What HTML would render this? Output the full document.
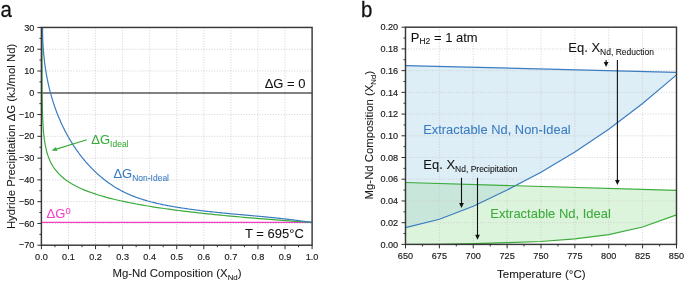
<!DOCTYPE html>
<html><head><meta charset="utf-8"><style>
html,body{margin:0;padding:0;background:#fff;}
svg{display:block;will-change:transform;}
text{font-family:"Liberation Sans", sans-serif;}
</style></head><body>
<svg width="685" height="282" viewBox="0 0 685 282">
<rect width="685" height="282" fill="#fff"/>

<line x1="68.47" y1="27.45" x2="68.47" y2="245.21" stroke="#cdcdcd" stroke-width="0.85" stroke-dasharray="1.1 1.56"/>
<line x1="95.54" y1="27.45" x2="95.54" y2="245.21" stroke="#cdcdcd" stroke-width="0.85" stroke-dasharray="1.1 1.56"/>
<line x1="122.61" y1="27.45" x2="122.61" y2="245.21" stroke="#cdcdcd" stroke-width="0.85" stroke-dasharray="1.1 1.56"/>
<line x1="149.68" y1="27.45" x2="149.68" y2="245.21" stroke="#cdcdcd" stroke-width="0.85" stroke-dasharray="1.1 1.56"/>
<line x1="176.75" y1="27.45" x2="176.75" y2="245.21" stroke="#cdcdcd" stroke-width="0.85" stroke-dasharray="1.1 1.56"/>
<line x1="203.82" y1="27.45" x2="203.82" y2="245.21" stroke="#cdcdcd" stroke-width="0.85" stroke-dasharray="1.1 1.56"/>
<line x1="230.89" y1="27.45" x2="230.89" y2="245.21" stroke="#cdcdcd" stroke-width="0.85" stroke-dasharray="1.1 1.56"/>
<line x1="257.96" y1="27.45" x2="257.96" y2="245.21" stroke="#cdcdcd" stroke-width="0.85" stroke-dasharray="1.1 1.56"/>
<line x1="285.03" y1="27.45" x2="285.03" y2="245.21" stroke="#cdcdcd" stroke-width="0.85" stroke-dasharray="1.1 1.56"/>
<line x1="41.4" y1="49.23" x2="312.1" y2="49.23" stroke="#cdcdcd" stroke-width="0.85" stroke-dasharray="1.1 1.56"/>
<line x1="41.4" y1="71" x2="312.1" y2="71" stroke="#cdcdcd" stroke-width="0.85" stroke-dasharray="1.1 1.56"/>
<line x1="41.4" y1="114.56" x2="312.1" y2="114.56" stroke="#cdcdcd" stroke-width="0.85" stroke-dasharray="1.1 1.56"/>
<line x1="41.4" y1="136.33" x2="312.1" y2="136.33" stroke="#cdcdcd" stroke-width="0.85" stroke-dasharray="1.1 1.56"/>
<line x1="41.4" y1="158.11" x2="312.1" y2="158.11" stroke="#cdcdcd" stroke-width="0.85" stroke-dasharray="1.1 1.56"/>
<line x1="41.4" y1="179.88" x2="312.1" y2="179.88" stroke="#cdcdcd" stroke-width="0.85" stroke-dasharray="1.1 1.56"/>
<line x1="41.4" y1="201.66" x2="312.1" y2="201.66" stroke="#cdcdcd" stroke-width="0.85" stroke-dasharray="1.1 1.56"/>
<line x1="41.4" y1="223.43" x2="312.1" y2="223.43" stroke="#cdcdcd" stroke-width="0.85" stroke-dasharray="1.1 1.56"/>
<line x1="41.4" y1="92.98" x2="312.1" y2="92.98" stroke="#585858" stroke-width="1.6"/>
<line x1="41.4" y1="222.4" x2="312.1" y2="222.4" stroke="#f53fc5" stroke-width="1.2"/>
<polyline points="42,27.69 42,28.9 42,30.1 42,31.31 42.01,32.51 42.01,33.72 42.01,34.92 42.01,36.13 42.01,37.33 42.01,38.54 42.01,39.74 42.01,40.95 42.01,42.15 42.01,43.36 42.01,44.56 42.01,45.77 42.01,46.97 42.01,48.18 42.01,49.38 42.01,50.59 42.02,51.8 42.02,53 42.02,54.21 42.02,55.41 42.02,56.62 42.02,57.82 42.02,59.03 42.03,60.23 42.03,61.44 42.03,62.64 42.03,63.85 42.03,65.05 42.04,66.26 42.04,67.46 42.04,68.67 42.04,69.87 42.05,71.08 42.05,72.28 42.05,73.49 42.06,74.69 42.06,75.9 42.07,77.1 42.07,78.31 42.08,79.51 42.08,80.72 42.09,81.92 42.1,83.13 42.1,84.33 42.11,85.54 42.12,86.74 42.13,87.95 42.13,89.15 42.14,90.36 42.15,91.56 42.17,92.77 42.18,93.97 42.19,95.18 42.2,96.38 42.22,97.59 42.23,98.79 42.25,100 42.27,101.2 42.29,102.41 42.31,103.61 42.33,104.82 42.35,106.02 42.38,107.23 42.4,108.43 42.43,109.64 42.46,110.84 42.5,112.05 42.53,113.25 42.57,114.46 42.61,115.66 42.65,116.87 42.7,118.07 42.75,119.28 42.8,120.48 42.86,121.69 42.92,122.89 42.99,124.1 43.06,125.3 43.13,126.51 43.21,127.71 43.3,128.92 43.39,130.12 43.49,131.33 43.6,132.53 43.71,133.74 43.83,134.94 43.96,136.15 44.1,137.35 44.25,138.56 44.41,139.76 44.58,140.97 44.77,142.17 44.96,143.38 45.17,144.58 45.4,145.79 45.64,146.99 45.9,148.2 46.18,149.4 46.48,150.61 46.79,151.81 47.14,153.02 47.5,154.22 47.89,155.43 48.31,156.63 48.76,157.84 49.24,159.04 49.76,160.25 50.31,161.45 50.9,162.66 51.54,163.86 52.22,165.07 52.94,166.27 53.72,167.48 54.56,168.68 55.45,169.89 58.69,173.67 61.92,176.77 65.16,179.41 68.4,181.7 71.63,183.73 74.87,185.55 78.11,187.19 81.35,188.7 84.59,190.08 87.83,191.37 91.07,192.56 94.31,193.68 97.55,194.73 100.8,195.73 104.04,196.67 107.28,197.56 110.52,198.41 113.77,199.22 117.01,199.99 120.25,200.73 123.5,201.44 126.74,202.13 129.99,202.78 133.23,203.42 136.48,204.03 139.73,204.62 142.97,205.19 146.22,205.75 149.47,206.28 152.72,206.8 155.96,207.31 159.21,207.8 162.46,208.28 165.71,208.74 168.96,209.2 172.21,209.64 175.46,210.07 178.71,210.49 181.96,210.9 185.21,211.3 188.46,211.7 191.71,212.08 194.96,212.46 198.21,212.82 201.46,213.19 204.71,213.54 207.97,213.88 211.22,214.22 214.47,214.56 217.72,214.88 220.98,215.2 224.23,215.52 227.48,215.83 230.73,216.13 233.99,216.43 237.24,216.72 240.5,217.01 243.75,217.3 247,217.58 250.26,217.85 253.51,218.12 256.77,218.39 260.02,218.65 263.27,218.91 266.53,219.17 269.78,219.42 273.04,219.67 276.29,219.91 279.55,220.15 282.8,220.39 286.06,220.63 289.31,220.86 292.57,221.09 295.82,221.31 299.08,221.54 302.33,221.76 305.59,221.97 308.84,222.19 312.1,222.4" fill="none" stroke="#3cab3c" stroke-width="1.2"/>
<polyline points="42.53,27.46 42.54,28.43 42.54,29.4 42.55,30.38 42.56,31.35 42.57,32.32 42.59,33.29 42.61,34.26 42.63,35.23 42.66,36.19 42.69,37.16 42.72,38.13 42.75,39.1 42.79,40.07 42.83,41.03 42.88,42 42.92,42.97 42.97,43.93 43.03,44.9 43.08,45.86 43.14,46.83 43.21,47.79 43.28,48.76 43.35,49.72 43.42,50.68 43.5,51.64 43.58,52.6 43.66,53.57 43.75,54.53 43.84,55.49 43.93,56.44 44.03,57.4 44.13,58.36 44.24,59.32 44.35,60.27 44.46,61.23 44.58,62.18 44.7,63.14 44.82,64.09 44.95,65.05 45.08,66 45.21,66.95 45.35,67.9 45.49,68.85 45.64,69.8 45.79,70.75 45.94,71.7 46.1,72.64 46.26,73.59 46.42,74.54 46.59,75.48 46.76,76.42 46.94,77.37 47.12,78.31 47.3,79.25 47.49,80.19 47.69,81.13 47.88,82.07 48.08,83 48.29,83.94 48.5,84.88 48.71,85.81 48.93,86.74 49.15,87.68 49.37,88.61 49.6,89.54 49.84,90.47 50.08,91.4 50.32,92.32 50.57,93.25 50.82,94.18 51.07,95.1 51.33,96.02 51.6,96.94 51.87,97.87 52.14,98.78 52.42,99.7 52.7,100.62 52.99,101.54 53.28,102.45 53.58,103.37 53.88,104.28 54.18,105.19 54.49,106.1 54.81,107.01 55.13,107.92 55.45,108.82 55.78,109.73 56.11,110.63 56.45,111.53 56.79,112.44 57.14,113.34 57.49,114.23 57.85,115.13 58.21,116.03 58.58,116.92 58.95,117.82 59.32,118.71 59.7,119.6 60.09,120.48 60.48,121.37 60.88,122.26 61.28,123.14 61.68,124.02 62.09,124.9 62.51,125.78 62.93,126.65 63.35,127.52 63.78,128.39 64.22,129.26 64.65,130.13 65.1,130.99 65.55,131.86 66,132.71 66.46,133.57 66.92,134.43 67.39,135.28 67.86,136.13 68.34,136.97 68.82,137.82 69.31,138.66 69.8,139.5 70.3,140.33 70.8,141.16 71.3,141.99 71.82,142.82 72.33,143.64 72.85,144.46 73.38,145.28 73.91,146.09 74.44,146.9 74.98,147.7 75.53,148.51 76.07,149.31 76.63,150.1 77.19,150.89 77.75,151.68 78.32,152.46 78.89,153.25 79.47,154.02 80.05,154.79 80.64,155.56 81.23,156.33 81.83,157.09 82.43,157.85 83.04,158.6 83.65,159.35 84.26,160.09 84.88,160.83 85.51,161.56 86.14,162.29 86.77,163.02 87.41,163.74 88.06,164.46 88.71,165.17 89.36,165.88 90.02,166.58 90.68,167.28 91.35,167.97 92.02,168.66 92.7,169.34 93.38,170.02 94.07,170.69 94.76,171.35 95.45,172.02 96.16,172.67 96.86,173.32 97.57,173.97 98.29,174.61 99.01,175.24 99.73,175.87 100.46,176.5 101.19,177.11 101.93,177.72 102.67,178.33 103.42,178.93 104.17,179.52 104.92,180.11 105.68,180.69 106.45,181.27 107.22,181.84 107.99,182.4 108.76,182.96 109.55,183.51 110.33,184.05 111.12,184.59 111.91,185.12 112.71,185.64 113.51,186.16 114.32,186.67 115.13,187.17 115.94,187.67 116.76,188.15 117.58,188.64 118.41,189.11 119.24,189.58 120.07,190.04 120.91,190.49 121.75,190.94 122.6,191.38 123.45,191.81 124.3,192.23 125.16,192.65 126.02,193.06 126.88,193.46 127.75,193.85 128.62,194.24 129.49,194.62 130.37,195 131.25,195.36 132.14,195.72 133.02,196.08 133.91,196.43 134.8,196.77 135.7,197.11 136.6,197.44 137.5,197.76 138.4,198.08 139.31,198.39 140.22,198.7 141.13,199 142.04,199.29 142.96,199.59 143.88,199.87 144.8,200.15 145.72,200.42 146.65,200.69 147.57,200.96 148.5,201.22 149.43,201.47 150.37,201.72 151.3,201.97 152.24,202.21 153.18,202.45 154.12,202.68 155.06,202.91 156,203.13 156.94,203.36 157.89,203.57 158.84,203.78 159.78,203.99 160.73,204.2 161.68,204.4 162.63,204.6 163.59,204.79 164.54,204.99 165.49,205.18 166.45,205.36 167.4,205.54 168.36,205.72 169.31,205.9 170.27,206.07 171.23,206.25 172.19,206.42 173.14,206.58 174.1,206.75 175.06,206.91 176.02,207.07 176.98,207.23 177.94,207.38 178.89,207.54 179.85,207.69 180.81,207.84 181.77,207.99 182.73,208.14 183.69,208.28 184.65,208.42 185.61,208.57 186.56,208.71 187.52,208.84 188.48,208.98 189.44,209.11 190.4,209.25 191.36,209.38 192.32,209.51 193.28,209.64 194.23,209.76 195.19,209.89 196.15,210.01 197.11,210.14 198.07,210.26 199.03,210.38 199.99,210.49 200.95,210.61 201.91,210.73 202.86,210.84 203.82,210.95 204.78,211.07 205.74,211.18 206.7,211.29 207.66,211.4 208.62,211.5 209.58,211.61 210.54,211.71 211.5,211.82 212.45,211.92 213.41,212.02 214.37,212.13 215.33,212.23 216.29,212.33 217.25,212.42 218.21,212.52 219.17,212.62 220.13,212.72 221.09,212.81 222.04,212.91 223,213 223.96,213.09 224.92,213.19 225.88,213.28 226.84,213.37 227.8,213.46 228.76,213.55 229.72,213.64 230.67,213.73 231.63,213.82 232.59,213.91 233.55,214 234.51,214.09 235.47,214.17 236.43,214.26 237.39,214.35 238.34,214.44 239.3,214.52 240.26,214.61 241.22,214.69 242.18,214.78 243.14,214.87 244.1,214.95 245.06,215.04 246.01,215.12 246.97,215.21 247.93,215.3 248.89,215.38 249.85,215.47 250.81,215.55 251.77,215.64 252.72,215.73 253.68,215.81 254.64,215.9 255.6,215.99 256.56,216.07 257.52,216.16 258.47,216.25 259.43,216.34 260.39,216.43 261.35,216.51 262.31,216.6 263.26,216.69 264.22,216.78 265.18,216.87 266.14,216.97 267.1,217.06 268.06,217.15 269.01,217.24 269.97,217.34 270.93,217.43 271.89,217.53 272.84,217.62 273.8,217.72 274.76,217.82 275.72,217.92 276.68,218.01 277.63,218.11 278.59,218.22 279.55,218.32 280.51,218.42 281.46,218.52 282.42,218.63 283.38,218.73 284.34,218.84 285.29,218.95 286.25,219.06 287.21,219.17 288.16,219.28 289.12,219.39 290.08,219.51 291.04,219.62 291.99,219.74 292.95,219.85 293.91,219.97 294.86,220.09 295.82,220.22 296.78,220.34 297.73,220.46 298.69,220.59 299.65,220.72 300.6,220.85 301.56,220.98 302.52,221.11 303.47,221.24 304.43,221.38 305.38,221.51 306.34,221.65 307.3,221.79 308.25,221.94 309.21,222.08 310.16,222.23 311.12,222.37 312.08,222.52" fill="none" stroke="#3b7cc0" stroke-width="1.2"/>
<rect x="41.4" y="27.45" width="270.7" height="217.75" fill="none" stroke="#383838" stroke-width="1.45"/>
<line x1="37.4" y1="27.45" x2="41.4" y2="27.45" stroke="#2e2e2e" stroke-width="1.0"/>
<line x1="39.4" y1="38.34" x2="41.4" y2="38.34" stroke="#2e2e2e" stroke-width="1.0"/>
<line x1="37.4" y1="49.23" x2="41.4" y2="49.23" stroke="#2e2e2e" stroke-width="1.0"/>
<line x1="39.4" y1="60.12" x2="41.4" y2="60.12" stroke="#2e2e2e" stroke-width="1.0"/>
<line x1="37.4" y1="71" x2="41.4" y2="71" stroke="#2e2e2e" stroke-width="1.0"/>
<line x1="39.4" y1="81.89" x2="41.4" y2="81.89" stroke="#2e2e2e" stroke-width="1.0"/>
<line x1="37.4" y1="92.78" x2="41.4" y2="92.78" stroke="#2e2e2e" stroke-width="1.0"/>
<line x1="39.4" y1="103.67" x2="41.4" y2="103.67" stroke="#2e2e2e" stroke-width="1.0"/>
<line x1="37.4" y1="114.56" x2="41.4" y2="114.56" stroke="#2e2e2e" stroke-width="1.0"/>
<line x1="39.4" y1="125.44" x2="41.4" y2="125.44" stroke="#2e2e2e" stroke-width="1.0"/>
<line x1="37.4" y1="136.33" x2="41.4" y2="136.33" stroke="#2e2e2e" stroke-width="1.0"/>
<line x1="39.4" y1="147.22" x2="41.4" y2="147.22" stroke="#2e2e2e" stroke-width="1.0"/>
<line x1="37.4" y1="158.11" x2="41.4" y2="158.11" stroke="#2e2e2e" stroke-width="1.0"/>
<line x1="39.4" y1="168.99" x2="41.4" y2="168.99" stroke="#2e2e2e" stroke-width="1.0"/>
<line x1="37.4" y1="179.88" x2="41.4" y2="179.88" stroke="#2e2e2e" stroke-width="1.0"/>
<line x1="39.4" y1="190.77" x2="41.4" y2="190.77" stroke="#2e2e2e" stroke-width="1.0"/>
<line x1="37.4" y1="201.66" x2="41.4" y2="201.66" stroke="#2e2e2e" stroke-width="1.0"/>
<line x1="39.4" y1="212.54" x2="41.4" y2="212.54" stroke="#2e2e2e" stroke-width="1.0"/>
<line x1="37.4" y1="223.43" x2="41.4" y2="223.43" stroke="#2e2e2e" stroke-width="1.0"/>
<line x1="39.4" y1="234.32" x2="41.4" y2="234.32" stroke="#2e2e2e" stroke-width="1.0"/>
<line x1="37.4" y1="245.21" x2="41.4" y2="245.21" stroke="#2e2e2e" stroke-width="1.0"/>
<line x1="41.4" y1="245.21" x2="41.4" y2="249.21" stroke="#2e2e2e" stroke-width="1.0"/>
<line x1="54.94" y1="245.21" x2="54.94" y2="247.21" stroke="#2e2e2e" stroke-width="1.0"/>
<line x1="68.47" y1="245.21" x2="68.47" y2="249.21" stroke="#2e2e2e" stroke-width="1.0"/>
<line x1="82" y1="245.21" x2="82" y2="247.21" stroke="#2e2e2e" stroke-width="1.0"/>
<line x1="95.54" y1="245.21" x2="95.54" y2="249.21" stroke="#2e2e2e" stroke-width="1.0"/>
<line x1="109.08" y1="245.21" x2="109.08" y2="247.21" stroke="#2e2e2e" stroke-width="1.0"/>
<line x1="122.61" y1="245.21" x2="122.61" y2="249.21" stroke="#2e2e2e" stroke-width="1.0"/>
<line x1="136.15" y1="245.21" x2="136.15" y2="247.21" stroke="#2e2e2e" stroke-width="1.0"/>
<line x1="149.68" y1="245.21" x2="149.68" y2="249.21" stroke="#2e2e2e" stroke-width="1.0"/>
<line x1="163.22" y1="245.21" x2="163.22" y2="247.21" stroke="#2e2e2e" stroke-width="1.0"/>
<line x1="176.75" y1="245.21" x2="176.75" y2="249.21" stroke="#2e2e2e" stroke-width="1.0"/>
<line x1="190.29" y1="245.21" x2="190.29" y2="247.21" stroke="#2e2e2e" stroke-width="1.0"/>
<line x1="203.82" y1="245.21" x2="203.82" y2="249.21" stroke="#2e2e2e" stroke-width="1.0"/>
<line x1="217.36" y1="245.21" x2="217.36" y2="247.21" stroke="#2e2e2e" stroke-width="1.0"/>
<line x1="230.89" y1="245.21" x2="230.89" y2="249.21" stroke="#2e2e2e" stroke-width="1.0"/>
<line x1="244.43" y1="245.21" x2="244.43" y2="247.21" stroke="#2e2e2e" stroke-width="1.0"/>
<line x1="257.96" y1="245.21" x2="257.96" y2="249.21" stroke="#2e2e2e" stroke-width="1.0"/>
<line x1="271.5" y1="245.21" x2="271.5" y2="247.21" stroke="#2e2e2e" stroke-width="1.0"/>
<line x1="285.03" y1="245.21" x2="285.03" y2="249.21" stroke="#2e2e2e" stroke-width="1.0"/>
<line x1="298.56" y1="245.21" x2="298.56" y2="247.21" stroke="#2e2e2e" stroke-width="1.0"/>
<line x1="312.1" y1="245.21" x2="312.1" y2="249.21" stroke="#2e2e2e" stroke-width="1.0"/>
<text transform="translate(34.4,30.6) scale(1.0,1.07)" font-size="9.15" text-anchor="end" fill="#1a1a1a" stroke="#1a1a1a" stroke-width="0.15">30</text>
<text transform="translate(34.4,52.38) scale(1.0,1.07)" font-size="9.15" text-anchor="end" fill="#1a1a1a" stroke="#1a1a1a" stroke-width="0.15">20</text>
<text transform="translate(34.4,74.16) scale(1.0,1.07)" font-size="9.15" text-anchor="end" fill="#1a1a1a" stroke="#1a1a1a" stroke-width="0.15">10</text>
<text transform="translate(34.4,95.93) scale(1.0,1.07)" font-size="9.15" text-anchor="end" fill="#1a1a1a" stroke="#1a1a1a" stroke-width="0.15">0</text>
<text transform="translate(34.4,117.71) scale(1.0,1.07)" font-size="9.15" text-anchor="end" fill="#1a1a1a" stroke="#1a1a1a" stroke-width="0.15">−10</text>
<text transform="translate(34.4,139.48) scale(1.0,1.07)" font-size="9.15" text-anchor="end" fill="#1a1a1a" stroke="#1a1a1a" stroke-width="0.15">−20</text>
<text transform="translate(34.4,161.26) scale(1.0,1.07)" font-size="9.15" text-anchor="end" fill="#1a1a1a" stroke="#1a1a1a" stroke-width="0.15">−30</text>
<text transform="translate(34.4,183.03) scale(1.0,1.07)" font-size="9.15" text-anchor="end" fill="#1a1a1a" stroke="#1a1a1a" stroke-width="0.15">−40</text>
<text transform="translate(34.4,204.81) scale(1.0,1.07)" font-size="9.15" text-anchor="end" fill="#1a1a1a" stroke="#1a1a1a" stroke-width="0.15">−50</text>
<text transform="translate(34.4,226.58) scale(1.0,1.07)" font-size="9.15" text-anchor="end" fill="#1a1a1a" stroke="#1a1a1a" stroke-width="0.15">−60</text>
<text transform="translate(34.4,248.36) scale(1.0,1.07)" font-size="9.15" text-anchor="end" fill="#1a1a1a" stroke="#1a1a1a" stroke-width="0.15">−70</text>
<text transform="translate(41.4,259.6) scale(1.0,1.07)" font-size="9.15" text-anchor="middle" fill="#1a1a1a" stroke="#1a1a1a" stroke-width="0.15">0.0</text>
<text transform="translate(68.47,259.6) scale(1.0,1.07)" font-size="9.15" text-anchor="middle" fill="#1a1a1a" stroke="#1a1a1a" stroke-width="0.15">0.1</text>
<text transform="translate(95.54,259.6) scale(1.0,1.07)" font-size="9.15" text-anchor="middle" fill="#1a1a1a" stroke="#1a1a1a" stroke-width="0.15">0.2</text>
<text transform="translate(122.61,259.6) scale(1.0,1.07)" font-size="9.15" text-anchor="middle" fill="#1a1a1a" stroke="#1a1a1a" stroke-width="0.15">0.3</text>
<text transform="translate(149.68,259.6) scale(1.0,1.07)" font-size="9.15" text-anchor="middle" fill="#1a1a1a" stroke="#1a1a1a" stroke-width="0.15">0.4</text>
<text transform="translate(176.75,259.6) scale(1.0,1.07)" font-size="9.15" text-anchor="middle" fill="#1a1a1a" stroke="#1a1a1a" stroke-width="0.15">0.5</text>
<text transform="translate(203.82,259.6) scale(1.0,1.07)" font-size="9.15" text-anchor="middle" fill="#1a1a1a" stroke="#1a1a1a" stroke-width="0.15">0.6</text>
<text transform="translate(230.89,259.6) scale(1.0,1.07)" font-size="9.15" text-anchor="middle" fill="#1a1a1a" stroke="#1a1a1a" stroke-width="0.15">0.7</text>
<text transform="translate(257.96,259.6) scale(1.0,1.07)" font-size="9.15" text-anchor="middle" fill="#1a1a1a" stroke="#1a1a1a" stroke-width="0.15">0.8</text>
<text transform="translate(285.03,259.6) scale(1.0,1.07)" font-size="9.15" text-anchor="middle" fill="#1a1a1a" stroke="#1a1a1a" stroke-width="0.15">0.9</text>
<text transform="translate(312.1,259.6) scale(1.0,1.07)" font-size="9.15" text-anchor="middle" fill="#1a1a1a" stroke="#1a1a1a" stroke-width="0.15">1.0</text>
<text transform="translate(177,277.2)" font-size="11.4" text-anchor="middle" fill="#1a1a1a" stroke="#1a1a1a" stroke-width="0.07">Mg-Nd Composition (X<tspan font-size="7.9" dy="2.5">Nd</tspan><tspan dy="-2.5">)</tspan></text>
<text transform="translate(14.9,136.4) rotate(-90)" font-size="11.35" text-anchor="middle" fill="#1a1a1a" stroke="#1a1a1a" stroke-width="0.07">Hydride Precipitation ΔG (kJ/mol Nd)</text>
<text transform="translate(305.5,88.1) scale(1.0,1.035)" font-size="13" text-anchor="end" fill="#111" stroke="#111" stroke-width="0.07">ΔG = 0</text>
<text transform="translate(303.8,238) scale(1.0,1.035)" font-size="13" text-anchor="end" fill="#111" stroke="#111" stroke-width="0.07">T = 695°C</text>
<text transform="translate(46.6,217.9) scale(1.0,1.035)" font-size="13" fill="#f53fc5" stroke="#f53fc5" stroke-width="0.07">ΔG<tspan font-size="9.3" dy="-3.4">0</tspan></text>
<text transform="translate(91.3,144) scale(1.0,1.035)" font-size="13" fill="#3cab3c" stroke="#3cab3c" stroke-width="0.07">ΔG<tspan font-size="8.5" dy="2.7">Ideal</tspan></text>
<text transform="translate(113.4,177.8) scale(1.0,1.035)" font-size="13" fill="#3b7cc0" stroke="#3b7cc0" stroke-width="0.07">ΔG<tspan font-size="8.5" dy="2.7">Non-Ideal</tspan></text>
<line x1="86.8" y1="139.7" x2="55.5" y2="149.4" stroke="#3cab3c" stroke-width="1.2"/>
<polygon points="51.4,150.6 56.01,146.88 57.31,151.08" fill="#3cab3c"/>
<text transform="translate(0.6,17) scale(1.0,1.07)" font-size="20.4" fill="#111" stroke="#111" stroke-width="0.25">a</text>
<defs><clipPath id="bclip"><polygon points="405.5,65.6 676.5,72.4 676.5,74.9 642.62,103.5 608.75,129.2 574.88,152.1 541,172.3 507.12,190 473.25,206.3 439.38,219.3 405.5,227.6"/></clipPath></defs>
<polygon points="405.5,65.6 676.5,72.4 676.5,74.9 642.62,103.5 608.75,129.2 574.88,152.1 541,172.3 507.12,190 473.25,206.3 439.38,219.3 405.5,227.6" fill="#ddeef6" stroke="none"/>
<polygon points="405.5,182.5 676.5,190.4 676.5,214.9 642.62,227 608.75,234.6 574.88,238.9 541,241.5 507.12,242.7 473.25,243.6 439.38,244.3 405.5,244.5" fill="#dcf4dc" stroke="none"/>
<polygon points="405.5,182.5 676.5,190.4 676.5,214.9 642.62,227 608.75,234.6 574.88,238.9 541,241.5 507.12,242.7 473.25,243.6 439.38,244.3 405.5,244.5" fill="#c8e6da" stroke="none" clip-path="url(#bclip)"/>
<line x1="439.38" y1="27.2" x2="439.38" y2="244.4" stroke="#cdcdcd" stroke-width="0.85" stroke-dasharray="1.1 1.56"/>
<line x1="473.25" y1="27.2" x2="473.25" y2="244.4" stroke="#cdcdcd" stroke-width="0.85" stroke-dasharray="1.1 1.56"/>
<line x1="507.12" y1="27.2" x2="507.12" y2="244.4" stroke="#cdcdcd" stroke-width="0.85" stroke-dasharray="1.1 1.56"/>
<line x1="541" y1="27.2" x2="541" y2="244.4" stroke="#cdcdcd" stroke-width="0.85" stroke-dasharray="1.1 1.56"/>
<line x1="574.88" y1="27.2" x2="574.88" y2="244.4" stroke="#cdcdcd" stroke-width="0.85" stroke-dasharray="1.1 1.56"/>
<line x1="608.75" y1="27.2" x2="608.75" y2="244.4" stroke="#cdcdcd" stroke-width="0.85" stroke-dasharray="1.1 1.56"/>
<line x1="642.62" y1="27.2" x2="642.62" y2="244.4" stroke="#cdcdcd" stroke-width="0.85" stroke-dasharray="1.1 1.56"/>
<line x1="405.5" y1="222.68" x2="676.5" y2="222.68" stroke="#cdcdcd" stroke-width="0.85" stroke-dasharray="1.1 1.56"/>
<line x1="405.5" y1="200.96" x2="676.5" y2="200.96" stroke="#cdcdcd" stroke-width="0.85" stroke-dasharray="1.1 1.56"/>
<line x1="405.5" y1="179.24" x2="676.5" y2="179.24" stroke="#cdcdcd" stroke-width="0.85" stroke-dasharray="1.1 1.56"/>
<line x1="405.5" y1="157.52" x2="676.5" y2="157.52" stroke="#cdcdcd" stroke-width="0.85" stroke-dasharray="1.1 1.56"/>
<line x1="405.5" y1="135.8" x2="676.5" y2="135.8" stroke="#cdcdcd" stroke-width="0.85" stroke-dasharray="1.1 1.56"/>
<line x1="405.5" y1="114.08" x2="676.5" y2="114.08" stroke="#cdcdcd" stroke-width="0.85" stroke-dasharray="1.1 1.56"/>
<line x1="405.5" y1="92.36" x2="676.5" y2="92.36" stroke="#cdcdcd" stroke-width="0.85" stroke-dasharray="1.1 1.56"/>
<line x1="405.5" y1="70.64" x2="676.5" y2="70.64" stroke="#cdcdcd" stroke-width="0.85" stroke-dasharray="1.1 1.56"/>
<line x1="405.5" y1="48.92" x2="676.5" y2="48.92" stroke="#cdcdcd" stroke-width="0.85" stroke-dasharray="1.1 1.56"/>
<polyline points="405.5,65.6 676.5,72.4" fill="none" stroke="#3b7cc0" stroke-width="1.2"/>
<polyline points="405.5,227.6 439.38,219.3 473.25,206.3 507.12,190 541,172.3 574.88,152.1 608.75,129.2 642.62,103.5 676.5,74.9" fill="none" stroke="#3b7cc0" stroke-width="1.2"/>
<polyline points="405.5,182.5 676.5,190.4" fill="none" stroke="#3cab3c" stroke-width="1.2"/>
<polyline points="405.5,244.5 439.38,244.3 473.25,243.6 507.12,242.7 541,241.5 574.88,238.9 608.75,234.6 642.62,227 676.5,214.9" fill="none" stroke="#3cab3c" stroke-width="1.2"/>
<rect x="405.5" y="27.2" width="271" height="217.2" fill="none" stroke="#383838" stroke-width="1.45"/>
<line x1="401.5" y1="244.4" x2="405.5" y2="244.4" stroke="#2e2e2e" stroke-width="1.0"/>
<line x1="403.5" y1="233.54" x2="405.5" y2="233.54" stroke="#2e2e2e" stroke-width="1.0"/>
<line x1="401.5" y1="222.68" x2="405.5" y2="222.68" stroke="#2e2e2e" stroke-width="1.0"/>
<line x1="403.5" y1="211.82" x2="405.5" y2="211.82" stroke="#2e2e2e" stroke-width="1.0"/>
<line x1="401.5" y1="200.96" x2="405.5" y2="200.96" stroke="#2e2e2e" stroke-width="1.0"/>
<line x1="403.5" y1="190.1" x2="405.5" y2="190.1" stroke="#2e2e2e" stroke-width="1.0"/>
<line x1="401.5" y1="179.24" x2="405.5" y2="179.24" stroke="#2e2e2e" stroke-width="1.0"/>
<line x1="403.5" y1="168.38" x2="405.5" y2="168.38" stroke="#2e2e2e" stroke-width="1.0"/>
<line x1="401.5" y1="157.52" x2="405.5" y2="157.52" stroke="#2e2e2e" stroke-width="1.0"/>
<line x1="403.5" y1="146.66" x2="405.5" y2="146.66" stroke="#2e2e2e" stroke-width="1.0"/>
<line x1="401.5" y1="135.8" x2="405.5" y2="135.8" stroke="#2e2e2e" stroke-width="1.0"/>
<line x1="403.5" y1="124.94" x2="405.5" y2="124.94" stroke="#2e2e2e" stroke-width="1.0"/>
<line x1="401.5" y1="114.08" x2="405.5" y2="114.08" stroke="#2e2e2e" stroke-width="1.0"/>
<line x1="403.5" y1="103.22" x2="405.5" y2="103.22" stroke="#2e2e2e" stroke-width="1.0"/>
<line x1="401.5" y1="92.36" x2="405.5" y2="92.36" stroke="#2e2e2e" stroke-width="1.0"/>
<line x1="403.5" y1="81.5" x2="405.5" y2="81.5" stroke="#2e2e2e" stroke-width="1.0"/>
<line x1="401.5" y1="70.64" x2="405.5" y2="70.64" stroke="#2e2e2e" stroke-width="1.0"/>
<line x1="403.5" y1="59.78" x2="405.5" y2="59.78" stroke="#2e2e2e" stroke-width="1.0"/>
<line x1="401.5" y1="48.92" x2="405.5" y2="48.92" stroke="#2e2e2e" stroke-width="1.0"/>
<line x1="403.5" y1="38.06" x2="405.5" y2="38.06" stroke="#2e2e2e" stroke-width="1.0"/>
<line x1="401.5" y1="27.2" x2="405.5" y2="27.2" stroke="#2e2e2e" stroke-width="1.0"/>
<line x1="405.5" y1="244.4" x2="405.5" y2="248.4" stroke="#2e2e2e" stroke-width="1.0"/>
<line x1="422.44" y1="244.4" x2="422.44" y2="246.4" stroke="#2e2e2e" stroke-width="1.0"/>
<line x1="439.38" y1="244.4" x2="439.38" y2="248.4" stroke="#2e2e2e" stroke-width="1.0"/>
<line x1="456.31" y1="244.4" x2="456.31" y2="246.4" stroke="#2e2e2e" stroke-width="1.0"/>
<line x1="473.25" y1="244.4" x2="473.25" y2="248.4" stroke="#2e2e2e" stroke-width="1.0"/>
<line x1="490.19" y1="244.4" x2="490.19" y2="246.4" stroke="#2e2e2e" stroke-width="1.0"/>
<line x1="507.12" y1="244.4" x2="507.12" y2="248.4" stroke="#2e2e2e" stroke-width="1.0"/>
<line x1="524.06" y1="244.4" x2="524.06" y2="246.4" stroke="#2e2e2e" stroke-width="1.0"/>
<line x1="541" y1="244.4" x2="541" y2="248.4" stroke="#2e2e2e" stroke-width="1.0"/>
<line x1="557.94" y1="244.4" x2="557.94" y2="246.4" stroke="#2e2e2e" stroke-width="1.0"/>
<line x1="574.88" y1="244.4" x2="574.88" y2="248.4" stroke="#2e2e2e" stroke-width="1.0"/>
<line x1="591.81" y1="244.4" x2="591.81" y2="246.4" stroke="#2e2e2e" stroke-width="1.0"/>
<line x1="608.75" y1="244.4" x2="608.75" y2="248.4" stroke="#2e2e2e" stroke-width="1.0"/>
<line x1="625.69" y1="244.4" x2="625.69" y2="246.4" stroke="#2e2e2e" stroke-width="1.0"/>
<line x1="642.62" y1="244.4" x2="642.62" y2="248.4" stroke="#2e2e2e" stroke-width="1.0"/>
<line x1="659.56" y1="244.4" x2="659.56" y2="246.4" stroke="#2e2e2e" stroke-width="1.0"/>
<line x1="676.5" y1="244.4" x2="676.5" y2="248.4" stroke="#2e2e2e" stroke-width="1.0"/>
<text transform="translate(398.2,247.55) scale(1.0,1.07)" font-size="9.15" text-anchor="end" fill="#1a1a1a" stroke="#1a1a1a" stroke-width="0.15">0.00</text>
<text transform="translate(398.2,225.83) scale(1.0,1.07)" font-size="9.15" text-anchor="end" fill="#1a1a1a" stroke="#1a1a1a" stroke-width="0.15">0.02</text>
<text transform="translate(398.2,204.11) scale(1.0,1.07)" font-size="9.15" text-anchor="end" fill="#1a1a1a" stroke="#1a1a1a" stroke-width="0.15">0.04</text>
<text transform="translate(398.2,182.39) scale(1.0,1.07)" font-size="9.15" text-anchor="end" fill="#1a1a1a" stroke="#1a1a1a" stroke-width="0.15">0.06</text>
<text transform="translate(398.2,160.67) scale(1.0,1.07)" font-size="9.15" text-anchor="end" fill="#1a1a1a" stroke="#1a1a1a" stroke-width="0.15">0.08</text>
<text transform="translate(398.2,138.95) scale(1.0,1.07)" font-size="9.15" text-anchor="end" fill="#1a1a1a" stroke="#1a1a1a" stroke-width="0.15">0.10</text>
<text transform="translate(398.2,117.23) scale(1.0,1.07)" font-size="9.15" text-anchor="end" fill="#1a1a1a" stroke="#1a1a1a" stroke-width="0.15">0.12</text>
<text transform="translate(398.2,95.51) scale(1.0,1.07)" font-size="9.15" text-anchor="end" fill="#1a1a1a" stroke="#1a1a1a" stroke-width="0.15">0.14</text>
<text transform="translate(398.2,73.79) scale(1.0,1.07)" font-size="9.15" text-anchor="end" fill="#1a1a1a" stroke="#1a1a1a" stroke-width="0.15">0.16</text>
<text transform="translate(398.2,52.07) scale(1.0,1.07)" font-size="9.15" text-anchor="end" fill="#1a1a1a" stroke="#1a1a1a" stroke-width="0.15">0.18</text>
<text transform="translate(398.2,30.35) scale(1.0,1.07)" font-size="9.15" text-anchor="end" fill="#1a1a1a" stroke="#1a1a1a" stroke-width="0.15">0.20</text>
<text transform="translate(405.5,259.4) scale(1.0,1.07)" font-size="9.15" text-anchor="middle" fill="#1a1a1a" stroke="#1a1a1a" stroke-width="0.15">650</text>
<text transform="translate(439.38,259.4) scale(1.0,1.07)" font-size="9.15" text-anchor="middle" fill="#1a1a1a" stroke="#1a1a1a" stroke-width="0.15">675</text>
<text transform="translate(473.25,259.4) scale(1.0,1.07)" font-size="9.15" text-anchor="middle" fill="#1a1a1a" stroke="#1a1a1a" stroke-width="0.15">700</text>
<text transform="translate(507.12,259.4) scale(1.0,1.07)" font-size="9.15" text-anchor="middle" fill="#1a1a1a" stroke="#1a1a1a" stroke-width="0.15">725</text>
<text transform="translate(541,259.4) scale(1.0,1.07)" font-size="9.15" text-anchor="middle" fill="#1a1a1a" stroke="#1a1a1a" stroke-width="0.15">750</text>
<text transform="translate(574.88,259.4) scale(1.0,1.07)" font-size="9.15" text-anchor="middle" fill="#1a1a1a" stroke="#1a1a1a" stroke-width="0.15">775</text>
<text transform="translate(608.75,259.4) scale(1.0,1.07)" font-size="9.15" text-anchor="middle" fill="#1a1a1a" stroke="#1a1a1a" stroke-width="0.15">800</text>
<text transform="translate(642.62,259.4) scale(1.0,1.07)" font-size="9.15" text-anchor="middle" fill="#1a1a1a" stroke="#1a1a1a" stroke-width="0.15">825</text>
<text transform="translate(676.5,259.4) scale(1.0,1.07)" font-size="9.15" text-anchor="middle" fill="#1a1a1a" stroke="#1a1a1a" stroke-width="0.15">850</text>
<text transform="translate(541.3,278.4)" font-size="11.55" text-anchor="middle" fill="#1a1a1a" stroke="#1a1a1a" stroke-width="0.07">Temperature (°C)</text>
<text transform="translate(373,135.1) rotate(-90)" font-size="11.35" text-anchor="middle" fill="#1a1a1a" stroke="#1a1a1a" stroke-width="0.07">Mg-Nd Composition (X<tspan font-size="7.9" dy="2.5">Nd</tspan><tspan dy="-2.5">)</tspan></text>
<text transform="translate(410.8,41.6) scale(1.0,1.035)" font-size="13" fill="#111" stroke="#111" stroke-width="0.07">P<tspan font-size="8.5" dy="2.5">H2</tspan><tspan dy="-2.5"> = 1 atm</tspan></text>
<text transform="translate(568.3,52.2) scale(1.0,1.035)" font-size="13" fill="#111" stroke="#111" stroke-width="0.07">Eq. X<tspan font-size="8.5" dy="2.4">Nd, Reduction</tspan></text>
<text transform="translate(423.3,168.9) scale(1.0,1.035)" font-size="13" fill="#111" stroke="#111" stroke-width="0.07">Eq. X<tspan font-size="8.5" dy="2.7">Nd, Precipitation</tspan></text>
<text transform="translate(423.2,133.6) scale(1.0,1.035)" font-size="12.9" fill="#3b7cc0" stroke="#3b7cc0" stroke-width="0.07">Extractable Nd, Non-Ideal</text>
<text transform="translate(490.3,217.9) scale(1.0,1.035)" font-size="13" fill="#3cab3c" stroke="#3cab3c" stroke-width="0.07">Extractable Nd, Ideal</text>
<line x1="606.1" y1="60.1" x2="606.1" y2="62.5" stroke="#111" stroke-width="1.1"/><polygon points="603.75,62 608.45,62 606.1,67" fill="#111"/>
<line x1="617.4" y1="60.1" x2="617.4" y2="180.4" stroke="#111" stroke-width="1.1"/><polygon points="615.05,179.9 619.75,179.9 617.4,184.9" fill="#111"/>
<line x1="461.5" y1="177.8" x2="461.5" y2="203.4" stroke="#111" stroke-width="1.1"/><polygon points="459.15,202.9 463.85,202.9 461.5,207.9" fill="#111"/>
<line x1="477.5" y1="177.8" x2="477.5" y2="235.3" stroke="#111" stroke-width="1.1"/><polygon points="475.15,234.8 479.85,234.8 477.5,239.8" fill="#111"/>
<text transform="translate(361,17) scale(1.0,1.07)" font-size="20.4" fill="#111" stroke="#111" stroke-width="0.25">b</text>
</svg>
</body></html>
